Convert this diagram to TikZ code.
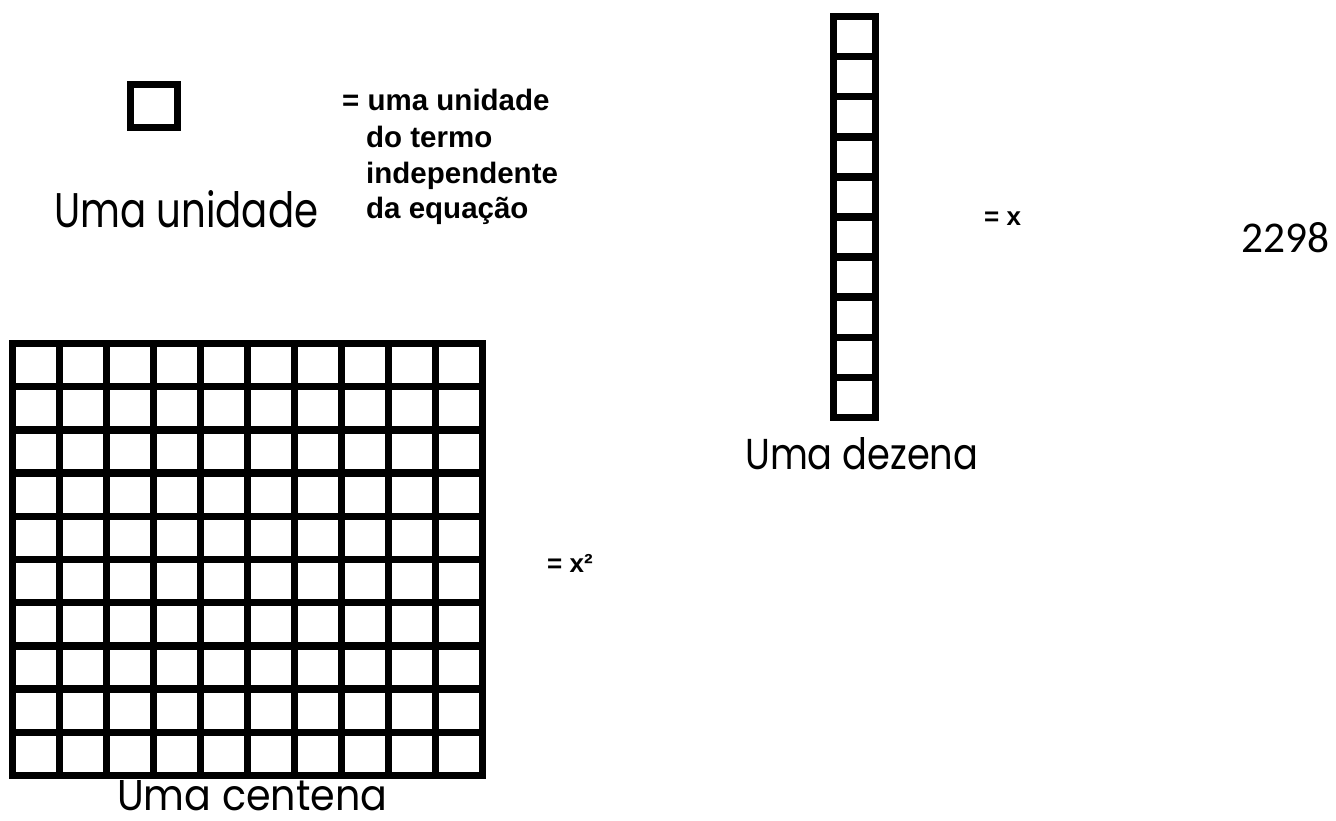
\documentclass[tikz,border=0pt]{standalone}
\usepackage{fontspec}
\usepackage{graphicx}
\setmainfont{Liberation Sans}
\newfontfamily\handfont{Poppins}
\newfontfamily\numfont{Carlito}
\tikzset{
  blk/.style={line width=7.5pt, draw=black},
  hand/.style={anchor=base west, inner sep=0pt, font=\handfont},
  lbl/.style={anchor=base west, inner sep=0pt, font=\bfseries\fontsize{29.5}{35}\selectfont},
  eqlbl/.style={anchor=base west, inner sep=0pt, font=\bfseries\fontsize{26}{30}\selectfont},
}
\begin{document}
\begin{tikzpicture}[x=1pt,y=-1pt]
\useasboundingbox (0,0) rectangle (1336,820);
\fill[white] (0,0) rectangle (1336,820);
% unit square
\draw[blk] (130.5,84.5) rectangle (177.5,127.5);
% column (dezena)
\draw[blk] (833.5,16.5) rectangle (875.5,417.5);
\foreach \i in {1,...,9} \draw[blk] (833.5,16.5+\i*40.1) -- (875.5,16.5+\i*40.1);
% grid (centena)
\draw[blk] (12.5,343.5) rectangle (482.5,775.5);
\foreach \i in {1,...,9} {
  \draw[blk] (12.5+\i*47,343.5) -- (12.5+\i*47,775.5);
  \draw[blk] (12.5,343.5+\i*43.2) -- (482.5,343.5+\i*43.2);
}
% hand-written labels
\node[hand] (uni) at (54,227) {\resizebox{264pt}{37pt}{Uma unidade}};
\node[hand] (dez) at (745,469) {\resizebox{233pt}{32pt}{Uma dezena}};
\node[hand] (cen) at (117,810) {\resizebox{270pt}{30pt}{Uma centena}};
\node[anchor=base west, inner sep=0pt] (num) at (1241,252) {\resizebox{88pt}{30pt}{\numfont 2298}};
% bold labels
\node[lbl] (l1) at (342,110) {= uma unidade};
\node[lbl] (l2) at (366,147) {do termo};
\node[lbl] (l3) at (366,183) {independente};
\node[lbl] (l4) at (366,218) {da equação};
\node[eqlbl] (ex) at (984,225) {= x};
\node[eqlbl] (ex2) at (547,572) {= x²};
\end{tikzpicture}
\end{document}
